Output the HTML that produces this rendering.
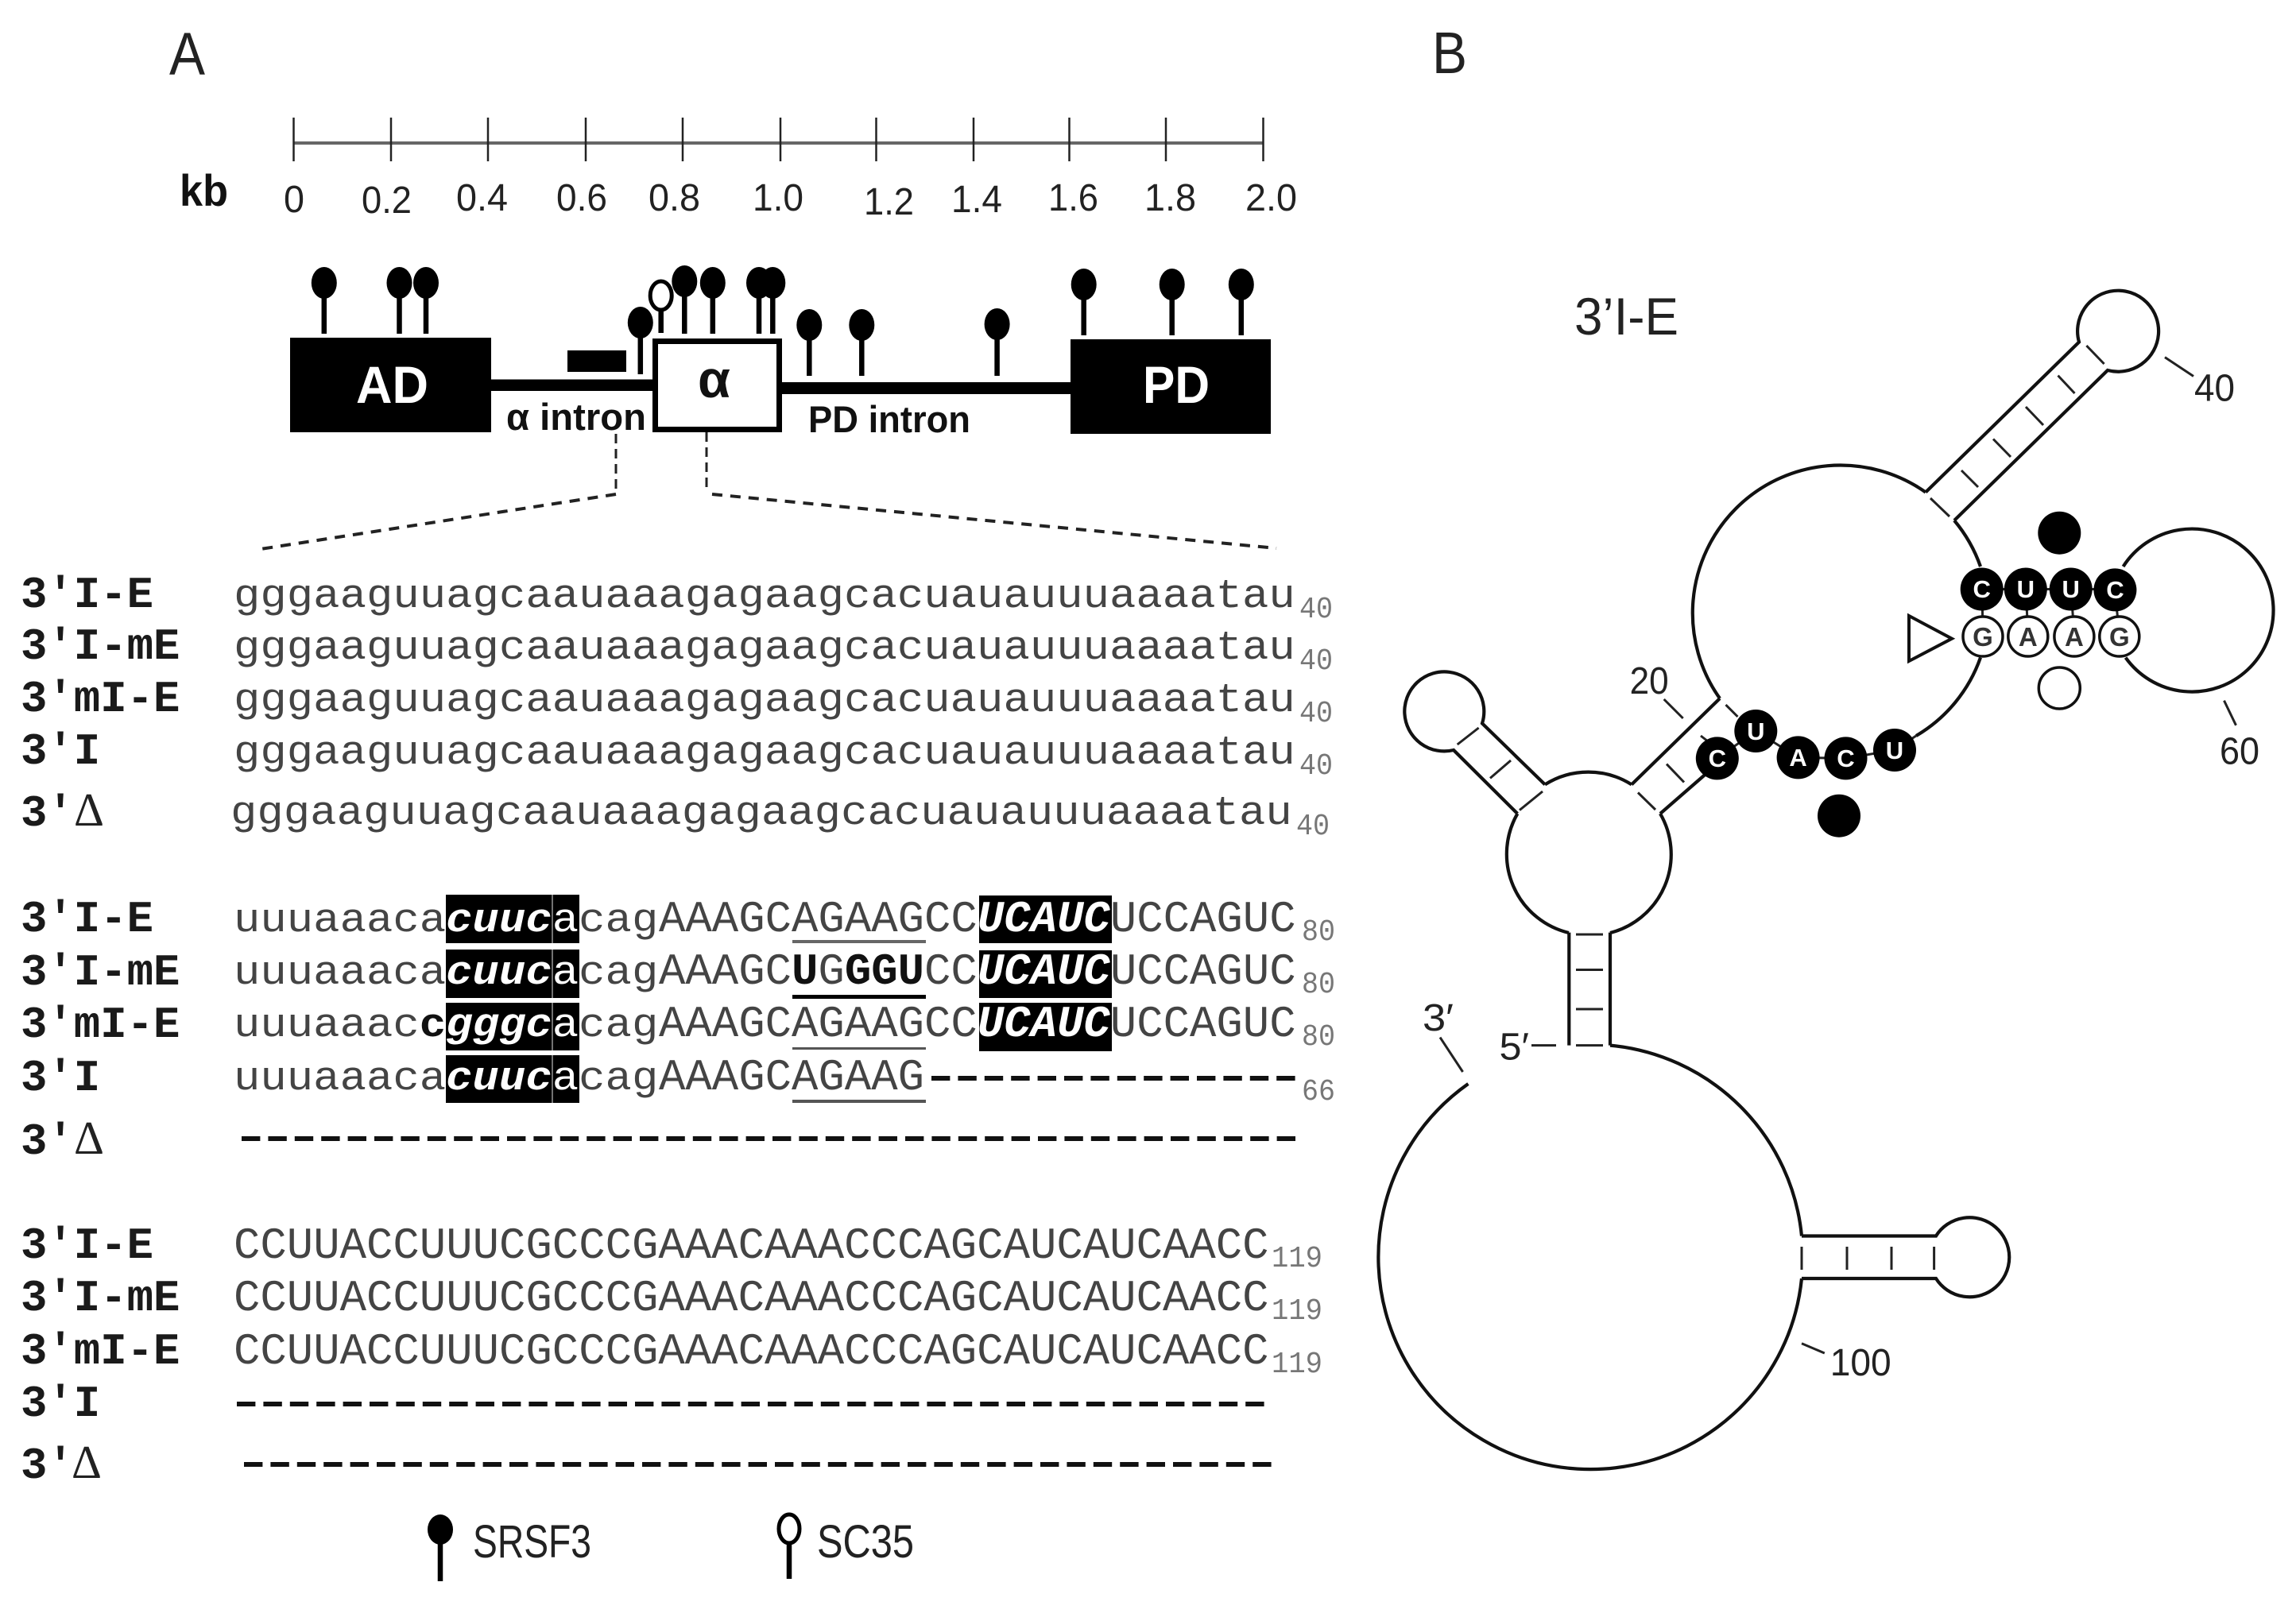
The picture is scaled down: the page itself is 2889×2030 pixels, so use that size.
<!DOCTYPE html>
<html><head><meta charset="utf-8"><style>
html,body{margin:0;padding:0;background:#fff}
svg{display:block}
text{white-space:pre}
.s{font:55.67px "Liberation Mono",monospace;fill:#444}
.l{font:bold 55.67px "Liberation Mono",monospace;fill:#1a1a1a}
.d{font:59px "Liberation Serif",serif;fill:#222}
.n{font:38px "Liberation Mono",monospace;fill:#777}
.w{font-weight:bold;font-style:italic;fill:#fff}
.x{font-weight:bold;fill:#111}
.c{font:48px "Liberation Sans",sans-serif;fill:#222}
.g{font:bold 66px "Liberation Sans",sans-serif;fill:#fff}
.i{font:bold 47px "Liberation Sans",sans-serif;fill:#111}
.t{font:bold 31px "Liberation Sans",sans-serif;fill:#fff;text-anchor:middle}
.u{font:bold 33px "Liberation Sans",sans-serif;fill:#333;text-anchor:middle}
.line{stroke:#111;stroke-width:4.2;fill:none}
.thin{stroke:#222;stroke-width:3;fill:none}
</style></head><body>
<svg xmlns="http://www.w3.org/2000/svg" width="2889" height="2030" viewBox="0 0 2889 2030">
<rect width="2889" height="2030" fill="#fff"/>

<!-- panel letters -->
<text x="213" y="94" class="c" style="font-size:76px" textLength="45" lengthAdjust="spacingAndGlyphs">A</text>
<text x="1802" y="92" class="c" style="font-size:74px" textLength="44" lengthAdjust="spacingAndGlyphs">B</text>

<!-- scale -->
<line x1="369.5" y1="180" x2="1589.5" y2="180" stroke="#666" stroke-width="4"/>
<g stroke="#222" stroke-width="2.5">
<line x1="369.5" y1="148" x2="369.5" y2="203"/><line x1="492" y1="148" x2="492" y2="203"/><line x1="614" y1="148" x2="614" y2="203"/><line x1="737" y1="148" x2="737" y2="203"/><line x1="859" y1="148" x2="859" y2="203"/><line x1="982" y1="148" x2="982" y2="203"/><line x1="1102.5" y1="148" x2="1102.5" y2="203"/><line x1="1225" y1="148" x2="1225" y2="203"/><line x1="1345.5" y1="148" x2="1345.5" y2="203"/><line x1="1467" y1="148" x2="1467" y2="203"/><line x1="1589.5" y1="148" x2="1589.5" y2="203"/>
</g>
<text x="226" y="259" style="font:bold 56px 'Liberation Sans',sans-serif;fill:#111" textLength="61" lengthAdjust="spacingAndGlyphs">kb</text>
<text x="357" y="267" class="c" textLength="26" lengthAdjust="spacingAndGlyphs">0</text>
<text x="455" y="268" class="c" textLength="63" lengthAdjust="spacingAndGlyphs">0.2</text>
<text x="574" y="265" class="c" textLength="65" lengthAdjust="spacingAndGlyphs">0.4</text>
<text x="700" y="265" class="c" textLength="64" lengthAdjust="spacingAndGlyphs">0.6</text>
<text x="816" y="265" class="c" textLength="65" lengthAdjust="spacingAndGlyphs">0.8</text>
<text x="947" y="265" class="c" textLength="64" lengthAdjust="spacingAndGlyphs">1.0</text>
<text x="1087" y="270" class="c" textLength="63" lengthAdjust="spacingAndGlyphs">1.2</text>
<text x="1197" y="267" class="c" textLength="64" lengthAdjust="spacingAndGlyphs">1.4</text>
<text x="1319" y="265" class="c" textLength="63" lengthAdjust="spacingAndGlyphs">1.6</text>
<text x="1440" y="265" class="c" textLength="65" lengthAdjust="spacingAndGlyphs">1.8</text>
<text x="1567" y="265" class="c" textLength="65" lengthAdjust="spacingAndGlyphs">2.0</text>

<!-- gene -->
<rect x="618" y="477.5" width="204" height="14.5" fill="#000"/>
<rect x="984" y="481" width="364" height="15" fill="#000"/>
<rect x="365" y="425" width="253" height="119" fill="#000"/>
<rect x="1347" y="427" width="252" height="119" fill="#000"/>
<rect x="824.5" y="429.5" width="156" height="111" fill="#fff" stroke="#000" stroke-width="7"/>
<rect x="714" y="441" width="74" height="27" fill="#000"/>
<text x="448" y="507" class="g" textLength="91" lengthAdjust="spacingAndGlyphs">AD</text>
<text x="878" y="500" class="g" style="fill:#111" textLength="41" lengthAdjust="spacingAndGlyphs">α</text>
<text x="1438" y="507" class="g" textLength="84" lengthAdjust="spacingAndGlyphs">PD</text>
<text x="637" y="541" class="i" textLength="176" lengthAdjust="spacingAndGlyphs">α intron</text>
<text x="1017" y="544" class="i" textLength="204" lengthAdjust="spacingAndGlyphs">PD intron</text>

<!-- lollipops -->
<g stroke="#000" stroke-width="6.5">
<line x1="407.8" y1="356" x2="407.8" y2="420"/><line x1="502.5" y1="356" x2="502.5" y2="420"/><line x1="536" y1="356" x2="536" y2="420"/><line x1="805.8" y1="406" x2="805.8" y2="471"/><line x1="861.3" y1="354" x2="861.3" y2="420"/><line x1="896.8" y1="356" x2="896.8" y2="420"/><line x1="955" y1="356" x2="955" y2="420"/><line x1="972.3" y1="356" x2="972.3" y2="420"/><line x1="1018.3" y1="409" x2="1018.3" y2="473"/><line x1="1084.3" y1="409" x2="1084.3" y2="473"/><line x1="1254.6" y1="408" x2="1254.6" y2="473"/><line x1="1363.7" y1="358" x2="1363.7" y2="422"/><line x1="1474.7" y1="358" x2="1474.7" y2="422"/><line x1="1561.8" y1="358" x2="1561.8" y2="422"/><line x1="831.7" y1="390" x2="831.7" y2="419"/>
</g>
<g fill="#000">
<ellipse cx="407.8" cy="356" rx="16" ry="20"/><ellipse cx="502.5" cy="356" rx="16" ry="20"/><ellipse cx="536" cy="356" rx="16" ry="20"/><ellipse cx="805.8" cy="406" rx="16" ry="20"/><ellipse cx="861.3" cy="354" rx="16" ry="20"/><ellipse cx="896.8" cy="356" rx="16" ry="20"/><ellipse cx="955" cy="356" rx="16" ry="20"/><ellipse cx="972.3" cy="356" rx="16" ry="20"/><ellipse cx="1018.3" cy="409" rx="16" ry="20"/><ellipse cx="1084.3" cy="409" rx="16" ry="20"/><ellipse cx="1254.6" cy="408" rx="16" ry="20"/><ellipse cx="1363.7" cy="358" rx="16" ry="20"/><ellipse cx="1474.7" cy="358" rx="16" ry="20"/><ellipse cx="1561.8" cy="358" rx="16" ry="20"/>
</g>
<ellipse cx="831.7" cy="372" rx="13.5" ry="18" fill="#fff" stroke="#000" stroke-width="5"/>

<!-- dashed zoom -->
<path d="M775 546V622" stroke="#222" stroke-width="3" stroke-dasharray="12 7" fill="none"/>
<path d="M889 544V615" stroke="#222" stroke-width="3" stroke-dasharray="12 7" fill="none"/>
<path d="M775 622L328 691" stroke="#222" stroke-width="4" stroke-dasharray="13 10" fill="none"/>
<path d="M896 622L1606 690" stroke="#222" stroke-width="4" stroke-dasharray="13 10" fill="none"/>

<!-- labels block 1 -->
<text x="26" y="764" class="l">3′I-E</text>
<text x="26" y="829" class="l">3′I-mE</text>
<text x="26" y="895" class="l">3′mI-E</text>
<text x="26" y="961" class="l">3′I</text>
<text x="26" y="1039" class="l">3′</text><text x="93" y="1039" class="d">Δ</text>
<!-- block 1 seq -->
<text class="s" transform="translate(294,764) scale(1,.92)">gggaaguuagcaauaaagagaagcacuauauuuaaaatau</text>
<text class="s" transform="translate(294,829) scale(1,.92)">gggaaguuagcaauaaagagaagcacuauauuuaaaatau</text>
<text class="s" transform="translate(294,895) scale(1,.92)">gggaaguuagcaauaaagagaagcacuauauuuaaaatau</text>
<text class="s" transform="translate(294,961) scale(1,.92)">gggaaguuagcaauaaagagaagcacuauauuuaaaatau</text>
<text class="s" transform="translate(290,1037) scale(1,.92)">gggaaguuagcaauaaagagaagcacuauauuuaaaatau</text>
<text x="1635" y="777" class="n" textLength="42" lengthAdjust="spacingAndGlyphs">40</text><text x="1635" y="842" class="n" textLength="42" lengthAdjust="spacingAndGlyphs">40</text><text x="1635" y="908" class="n" textLength="42" lengthAdjust="spacingAndGlyphs">40</text><text x="1635" y="974" class="n" textLength="42" lengthAdjust="spacingAndGlyphs">40</text><text x="1631" y="1050" class="n" textLength="42" lengthAdjust="spacingAndGlyphs">40</text>

<!-- labels block 2 -->
<text x="26" y="1172" class="l">3′I-E</text>
<text x="26" y="1239" class="l">3′I-mE</text>
<text x="26" y="1305" class="l">3′mI-E</text>
<text x="26" y="1372" class="l">3′I</text>
<text x="26" y="1452" class="l">3′</text><text x="93" y="1452" class="d">Δ</text>

<!-- boxes -->
<g fill="#000">
<rect x="561" y="1126" width="168" height="61"/><rect x="561" y="1195" width="168" height="61"/><rect x="561" y="1262" width="168" height="60"/><rect x="561" y="1328" width="168" height="60"/>
<rect x="1232" y="1127" width="167" height="60"/><rect x="1232" y="1196" width="167" height="60"/><rect x="1232" y="1262" width="167" height="61"/>
</g>
<g stroke="#999" stroke-width="1.5"><line x1="695" y1="1126" x2="695" y2="1187"/><line x1="695" y1="1195" x2="695" y2="1256"/><line x1="695" y1="1262" x2="695" y2="1322"/><line x1="695" y1="1328" x2="695" y2="1388"/></g>

<!-- block 2 seq -->
<text class="s" transform="translate(294,1172) scale(1,.92)">uuuaaaca<tspan class="w">cuuc</tspan><tspan style="fill:#fff">a</tspan>cag</text>
<text class="s" x="829" y="1172">AAAGCAGAAGCC<tspan class="w">UCAUC</tspan>UCCAGUC</text>
<text class="s" transform="translate(294,1238) scale(1,.92)">uuuaaaca<tspan class="w">cuuc</tspan><tspan style="fill:#fff">a</tspan>cag</text>
<text class="s" x="829" y="1238">AAAGC<tspan class="x">U</tspan>G<tspan class="x">GGU</tspan>CC<tspan class="w">UCAUC</tspan>UCCAGUC</text>
<text class="s" transform="translate(294,1304) scale(1,.92)">uuuaaac<tspan class="x">c</tspan><tspan class="w">gggc</tspan><tspan style="fill:#fff">a</tspan>cag</text>
<text class="s" x="829" y="1304">AAAGCAGAAGCC<tspan class="w">UCAUC</tspan>UCCAGUC</text>
<text class="s" transform="translate(294,1371) scale(1,.92)">uuuaaaca<tspan class="w">cuuc</tspan><tspan style="fill:#fff">a</tspan>cag</text>
<text class="s" x="829" y="1371">AAAGCAGAAG</text>
<text x="1638" y="1183" class="n" textLength="42" lengthAdjust="spacingAndGlyphs">80</text><text x="1638" y="1249" class="n" textLength="42" lengthAdjust="spacingAndGlyphs">80</text><text x="1638" y="1315" class="n" textLength="42" lengthAdjust="spacingAndGlyphs">80</text><text x="1638" y="1384" class="n" textLength="42" lengthAdjust="spacingAndGlyphs">66</text>
<!-- underlines -->
<rect x="997" y="1183" width="168" height="4" fill="#666"/>
<rect x="997" y="1252" width="168" height="5" fill="#000"/>
<rect x="997" y="1318" width="168" height="3" fill="#555"/>
<rect x="997" y="1384" width="168" height="4" fill="#555"/>
<!-- dashes -->
<g stroke="#111" stroke-width="6" fill="none" stroke-dasharray="23.4 10">
<line x1="1172" y1="1357" x2="1634" y2="1357"/>
<line x1="304" y1="1433" x2="1638" y2="1433"/>
<line x1="298" y1="1767" x2="1596" y2="1767"/>
<line x1="307" y1="1843" x2="1605" y2="1843"/>
</g>

<!-- block 3 -->
<text x="26" y="1583" class="l">3′I-E</text>
<text x="26" y="1649" class="l">3′I-mE</text>
<text x="26" y="1716" class="l">3′mI-E</text>
<text x="26" y="1782" class="l">3′I</text>
<text x="26" y="1860" class="l">3′</text><text x="90" y="1860" class="d">Δ</text>
<text class="s" x="294" y="1583">CCUUACCUUUCGCCCGAAACAAACCCAGCAUCAUCAACC</text>
<text class="s" x="294" y="1649">CCUUACCUUUCGCCCGAAACAAACCCAGCAUCAUCAACC</text>
<text class="s" x="294" y="1716">CCUUACCUUUCGCCCGAAACAAACCCAGCAUCAUCAACC</text>
<text x="1600" y="1594" class="n" textLength="64" lengthAdjust="spacingAndGlyphs">119</text><text x="1600" y="1660" class="n" textLength="64" lengthAdjust="spacingAndGlyphs">119</text><text x="1600" y="1727" class="n" textLength="64" lengthAdjust="spacingAndGlyphs">119</text>

<!-- legend -->
<line x1="554" y1="1925" x2="554" y2="1990" stroke="#000" stroke-width="6.5"/>
<ellipse cx="554" cy="1925" rx="16" ry="19" fill="#000"/>
<text x="595" y="1960" class="c" style="font-size:58px" textLength="149" lengthAdjust="spacingAndGlyphs">SRSF3</text>
<line x1="993" y1="1943" x2="993" y2="1987" stroke="#000" stroke-width="6.5"/>
<ellipse cx="993" cy="1924" rx="13" ry="18" fill="#fff" stroke="#000" stroke-width="5"/>
<text x="1028" y="1960" class="c" style="font-size:58px" textLength="122" lengthAdjust="spacingAndGlyphs">SC35</text>

<!-- Panel B -->
<text x="1981" y="421" class="c" style="font-size:66px" textLength="131" lengthAdjust="spacingAndGlyphs">3’I-E</text>

<g class="line">
<path d="M2026 1315.6A267 267 0 0 1 2267 1555.5"/>
<path d="M2267 1609A267 267 0 1 1 1847.4 1364"/>
<path d="M2267 1555.5H2436A50 50 0 1 1 2436 1609H2267"/>
<path d="M1974.3 1173.6V1315.6M2026 1173.6V1315.6"/>
<path d="M1944 987.4A102 102 0 0 1 2053 987.4"/>
<path d="M2089 1024A102 102 0 0 1 2026 1174"/>
<path d="M1909.4 1024A102 102 0 0 0 1974 1174"/>
<path d="M1944 987.4L1865 910.4A50 50 0 1 0 1829 944L1909.4 1024"/>
<path d="M2053 987.4L2164 879"/>
<path d="M2089 1024L2147 973.5"/>
<path d="M2423 619.5A186 186 0 0 0 2164 879"/>
<path d="M2459 655A186 186 0 0 1 2492 713"/>
<path d="M2492 827.6A185 185 0 0 1 2411 926"/>
<path d="M2423 619.5L2616 430.5A51 51 0 1 1 2652 466L2459 655"/>
<path d="M2671.6 713A102.5 102.5 0 1 1 2674.6 827.6"/>
</g>
<g class="thin">
<path d="M2429 627L2453 650M2468 592L2489 613M2508 552.5L2530 575M2549 512L2571 535M2589.5 472.6L2610.5 495M2625.4 435L2647.6 458"/>
<path d="M2171.5 887L2186.5 902M2140 926L2149 933M2097 961.6L2119 984.5M2061 997.5L2083 1019"/>
<path d="M1912 1019.6L1941 996M1875 979.4L1901 957M1833.7 937L1860.6 916"/>
<path d="M1983 1176H2017M1983 1220.5H2017M1983 1270H2017M1983 1315.6H2017M1927 1315.6H1958"/>
<path d="M2267 1569V1598M2324 1569V1598M2380 1569V1598M2433.6 1569V1598"/>
<path d="M2724 449.6L2760 473.5M2798.5 881.7L2813.5 912.8M2093.7 880L2117.7 904M1812 1305.6L1840.6 1349M2267 1690.7L2295.8 1703"/>
<path d="M2160.8 954.4L2209.3 920L2262.6 953.4L2322.5 954.4L2384 944L2411 926"/>
<path d="M2494 741.5H2661M2494 741.5L2495 801M2549 741.5L2552 801M2606 741.5L2610 801M2661 742L2667 801"/>
</g>

<!-- black nts -->
<g fill="#000">
<circle cx="2160.8" cy="954.4" r="27"/><circle cx="2209.3" cy="920" r="27"/><circle cx="2262.6" cy="953.4" r="27"/><circle cx="2322.5" cy="954.4" r="27"/><circle cx="2384" cy="944" r="27"/>
<circle cx="2493.7" cy="741.5" r="27"/><circle cx="2548.8" cy="741.5" r="27"/><circle cx="2605.7" cy="741.5" r="27"/><circle cx="2661.4" cy="742.4" r="27"/>
<circle cx="2591.3" cy="670.7" r="27"/><circle cx="2314" cy="1026.7" r="27"/>
</g>
<text x="2160.8" y="965" class="t">C</text><text x="2209.3" y="931" class="t">U</text><text x="2262.6" y="964" class="t">A</text><text x="2322.5" y="965" class="t">C</text><text x="2384" y="955" class="t">U</text>
<text x="2493.7" y="752" class="t">C</text><text x="2548.8" y="752" class="t">U</text><text x="2605.7" y="752" class="t">U</text><text x="2661.4" y="753" class="t">C</text>
<g fill="#fff" stroke="#111" stroke-width="3.5">
<circle cx="2495" cy="801" r="25"/><circle cx="2551.8" cy="801" r="25"/><circle cx="2609.9" cy="801" r="25"/><circle cx="2666.8" cy="801" r="25"/>
<circle cx="2591.3" cy="866" r="26"/>
</g>
<text x="2495" y="813" class="u">G</text><text x="2551.8" y="813" class="u">A</text><text x="2609.9" y="813" class="u">A</text><text x="2666.8" y="813" class="u">G</text>
<path d="M2402 775L2456 803.7L2402 832Z" fill="#fff" stroke="#111" stroke-width="4"/>

<text x="2761" y="504.6" class="c" textLength="51" lengthAdjust="spacingAndGlyphs">40</text>
<text x="2793" y="961.6" class="c" textLength="50" lengthAdjust="spacingAndGlyphs">60</text>
<text x="2050.6" y="873" class="c" textLength="49" lengthAdjust="spacingAndGlyphs">20</text>
<text x="1790" y="1297" class="c" textLength="39" lengthAdjust="spacingAndGlyphs">3′</text>
<text x="1886.5" y="1333.7" class="c" textLength="37.5" lengthAdjust="spacingAndGlyphs">5′</text>
<text x="2302.7" y="1731" class="c" textLength="77" lengthAdjust="spacingAndGlyphs">100</text>
</svg>
</body></html>
